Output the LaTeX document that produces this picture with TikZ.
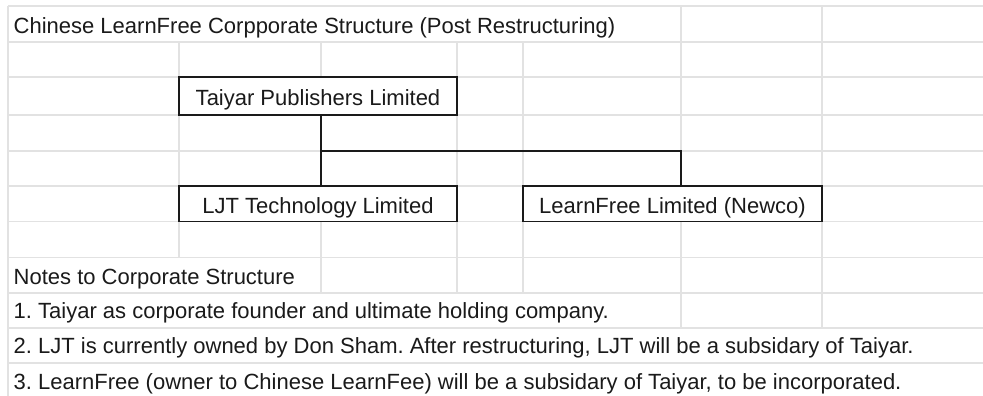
\documentclass[tikz,border=0pt]{standalone}
\usepackage{fontspec}
\setmainfont{Liberation Sans}
\frenchspacing
\definecolor{gridc}{HTML}{E2E2E2}
\definecolor{inkc}{HTML}{1A1A1A}
\tikzset{
  cell/.style={draw=gridc, line width=1.3pt},
  entity/.style={draw=inkc, line width=1.5pt, inner sep=0pt,
    text height=20pt, text depth=0pt, text=inkc,
    font=\fontsize{22}{24}\selectfont},
  conn/.style={draw=inkc, line width=1.5pt},
  label/.style={anchor=base west, inner sep=0pt, text=inkc,
    font=\fontsize{22}{24}\selectfont}
}
\begin{document}
\begin{tikzpicture}[x=1pt, y=-1pt]
\useasboundingbox[fill=white] (0,0) rectangle (983,396);

% sheet grid: row rules
\foreach \r in {6,42,77,115,151,186,221.5,257.3,293,328,363}
  \draw[cell] (8,\r) -- (983,\r);
% sheet grid: column rules, broken where text or merged cells cover them
\draw[cell] (8,6) -- (8,396);
\draw[cell] (179,42) -- (179,77) (179,115) -- (179,186) (179,221.5) -- (179,257.3);
\draw[cell] (321,42) -- (321,77) (321,221.5) -- (321,293);
\draw[cell] (457,42) -- (457,77) (457,115) -- (457,186) (457,221.5) -- (457,293);
\draw[cell] (523,42) -- (523,186) (523,221.5) -- (523,293);
\draw[cell] (681,6) -- (681,151) (681,221.5) -- (681,328);
\draw[cell] (822,6) -- (822,186) (822,221.5) -- (822,328);

% entities
\node[entity, minimum width=278pt, minimum height=38pt] (taiyar) at (318,96) {Taiyar Publishers Limited};
\node[entity, minimum width=278pt, minimum height=35.5pt] (ljt) at (318,203.75) {LJT Technology Limited};
\node[entity, minimum width=299pt, minimum height=35.5pt] (newco) at (672.5,203.75) {LearnFree Limited (Newco)};

% ownership lines
\coordinate (j1) at (321,151);
\coordinate (j2) at (681,151);
\draw[conn] (taiyar.south -| j1) -- (ljt.north -| j1);
\draw[conn] (j1) -- (j2) -- (newco.north -| j2);

% texts
\node[label] (title) at (13.5,33.3) {Chinese LearnFree Corpporate Structure (Post Restructuring)};
\node[label] (notes) at (13.5,284.3) {Notes to Corporate Structure};
\node[label] (n1) at (13.5,318.5) {1. Taiyar as corporate founder and ultimate holding company.};
\node[label] (n2) at (13.5,353.5) {2. LJT is currently owned by Don Sham. After restructuring, LJT will be a subsidary of Taiyar.};
\node[label] (n3) at (13.5,389.3) {3. LearnFree (owner to Chinese LearnFee) will be a subsidary of Taiyar, to be incorporated.};
\end{tikzpicture}
\end{document}
